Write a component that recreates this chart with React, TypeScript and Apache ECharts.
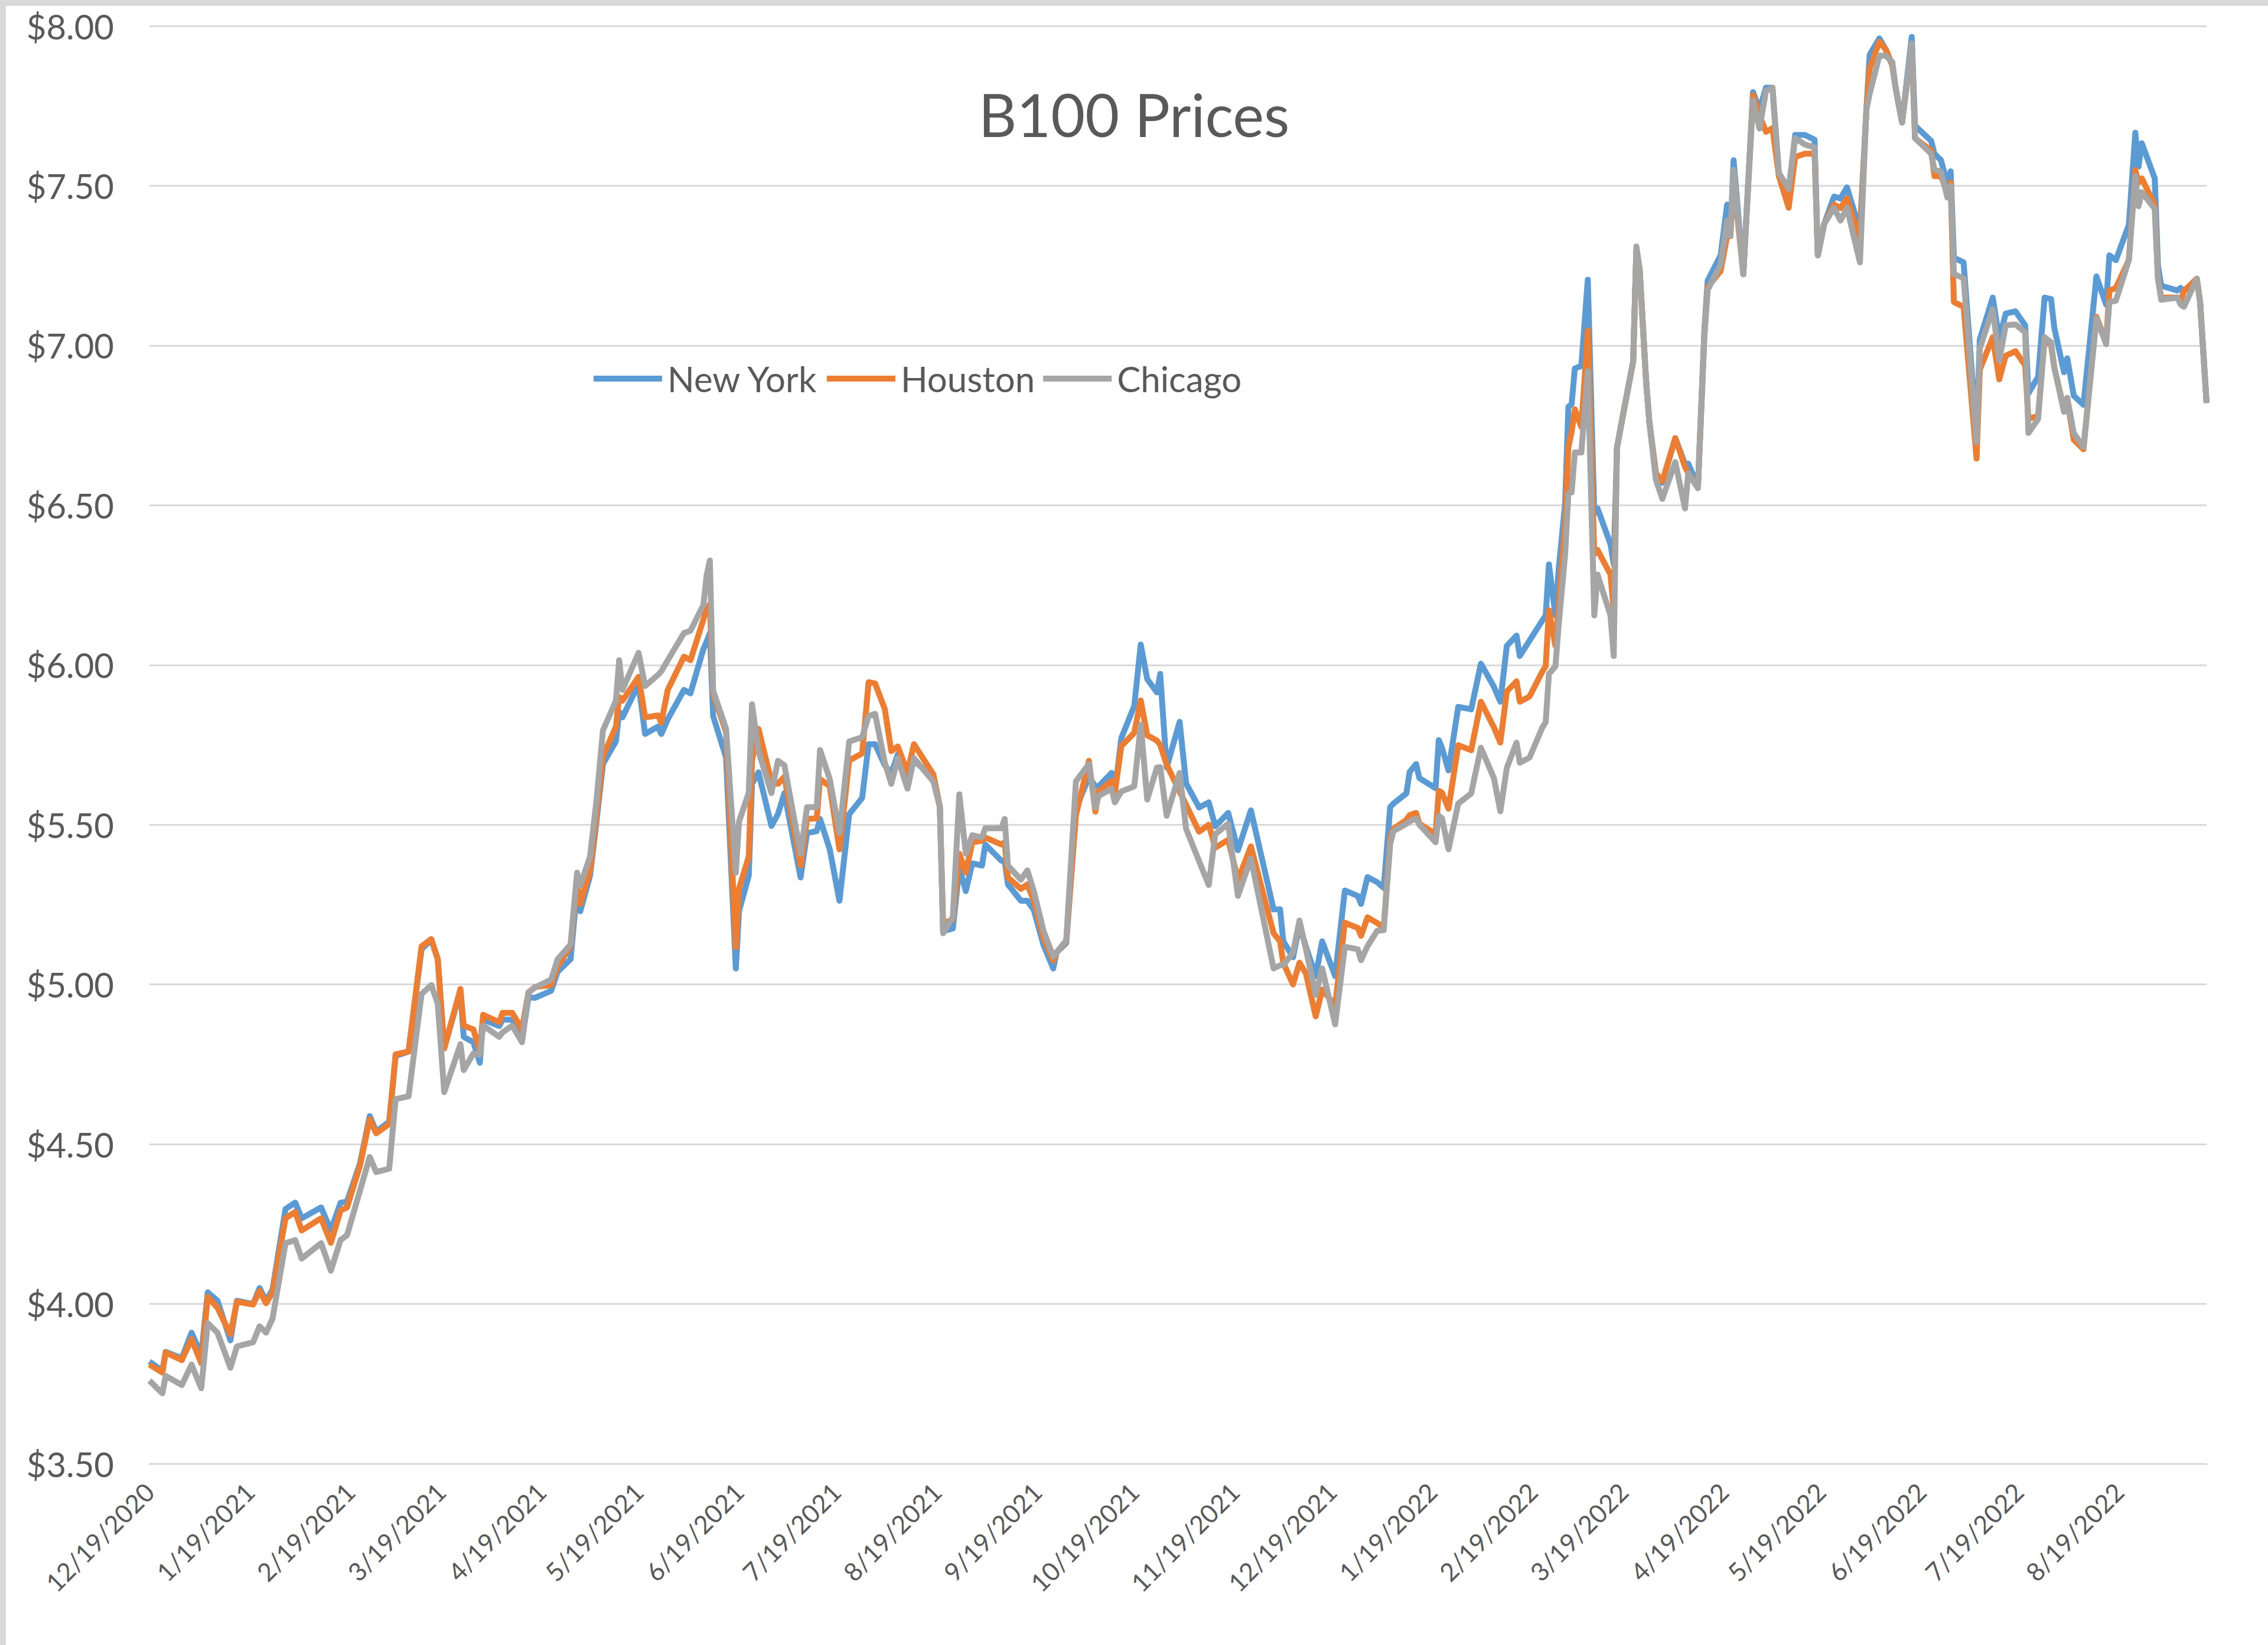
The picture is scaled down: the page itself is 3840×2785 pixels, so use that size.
import React, { useEffect, useRef } from "react";
import * as echarts from "echarts";

// Calendar days from 12/19/2020 (day 0) through the last shown day
const START_UTC = Date.UTC(2020, 11, 19);
const DAY_COUNT = 636;

// Sample days (days after 12/19/2020)
const sampleDay = [
  0, 4, 5, 10, 13, 16, 18, 21, 25, 27, 32, 34, 36, 38, 42, 45, 47, 53, 56, 59,
  61, 65, 68, 70, 74, 76, 80, 84, 87, 89, 91, 96, 97, 100, 102, 103, 108, 109, 112, 115,
  117, 119, 124, 126, 130, 132, 133, 136, 138, 140, 144, 145, 146, 151, 153, 157, 158, 160, 165, 167,
  171, 172, 173, 174, 178, 181, 182, 185, 186, 188, 192, 194, 196, 201, 203, 206, 207, 210, 213, 216,
  220, 222, 224, 227, 229, 231, 234, 236, 242, 244, 245, 248, 250, 252, 254, 257, 258, 263, 264, 265,
  269, 271, 273, 276, 279, 280, 283, 286, 290, 292, 293, 297, 298, 300, 304, 306, 308, 311, 312, 314,
  318, 320, 324, 327, 329, 333, 336, 340, 347, 349, 350, 353, 355, 357, 360, 362, 366, 369, 373, 374,
  376, 379, 381, 383, 384, 388, 389, 391, 392, 397, 398, 399, 401, 404, 408, 411, 415, 417, 419, 422,
  423, 426, 430, 431, 432, 434, 435, 437, 438, 439, 440, 442, 444, 446, 447, 451, 452, 453, 455, 458,
  459, 460, 462, 463, 465, 467, 471, 474, 475, 478, 480, 481, 485, 487, 488, 489, 492, 495, 497, 499,
  501, 503, 506, 508, 511, 514, 515, 517, 520, 522, 524, 528, 530, 531, 534, 536, 538, 539, 541, 544,
  545, 550, 551, 553, 555, 556, 557, 560, 564, 565, 569, 571, 573, 576, 579, 580, 583, 585, 587, 588,
  591, 592, 594, 597, 601, 604, 605, 607, 611, 613, 614, 615, 619, 620, 621, 626, 627, 628, 632, 633,
  635,
];

const newYork = [
  3.82, 3.79, 3.85, 3.83, 3.91, 3.84, 4.036, 4.01, 3.886, 4.01, 4.0, 4.05, 4.01, 4.045, 4.297, 4.317, 4.268, 4.302, 4.23, 4.317,
  4.32, 4.44, 4.588, 4.54, 4.57, 4.776, 4.79, 5.11, 5.14, 5.08, 4.8, 4.98, 4.836, 4.819, 4.755, 4.89, 4.87, 4.89, 4.89, 4.825,
  4.96, 4.958, 4.98, 5.04, 5.079, 5.3, 5.229, 5.34, 5.51, 5.69, 5.761, 5.853, 5.836, 5.94, 5.784, 5.807, 5.784, 5.83, 5.922, 5.911,
  6.05, 6.073, 6.1, 5.84, 5.71, 5.05, 5.23, 5.34, 5.628, 5.664, 5.496, 5.533, 5.599, 5.335, 5.474, 5.48, 5.518, 5.423, 5.262, 5.533,
  5.584, 5.752, 5.752, 5.686, 5.66, 5.72, 5.64, 5.7, 5.65, 5.555, 5.167, 5.175, 5.365, 5.292, 5.379, 5.372, 5.438, 5.387, 5.387, 5.313,
  5.262, 5.262, 5.233, 5.123, 5.05, 5.1, 5.13, 5.55, 5.65, 5.62, 5.62, 5.662, 5.6, 5.771, 5.872, 6.064, 5.956, 5.914, 5.972, 5.679,
  5.822, 5.629, 5.554, 5.57, 5.495, 5.537, 5.42, 5.545, 5.235, 5.235, 5.135, 5.085, 5.185, 5.118, 5.026, 5.135, 5.026, 5.294, 5.277, 5.252,
  5.336, 5.32, 5.302, 5.555, 5.566, 5.598, 5.665, 5.69, 5.646, 5.614, 5.765, 5.74, 5.67, 5.869, 5.861, 6.004, 5.932, 5.885, 6.06, 6.092,
  6.028, 6.076, 6.14, 6.155, 6.315, 6.155, 6.299, 6.506, 6.808, 6.816, 6.928, 6.936, 7.206, 6.474, 6.49, 6.378, 6.315, 6.68, 6.79, 6.95,
  7.3, 7.238, 6.888, 6.76, 6.6, 6.57, 6.71, 6.629, 6.63, 6.56, 7.05, 7.203, 7.282, 7.441, 7.342, 7.58, 7.223, 7.793, 7.738, 7.807,
  7.807, 7.53, 7.48, 7.659, 7.659, 7.644, 7.282, 7.381, 7.466, 7.46, 7.495, 7.36, 7.738, 7.91, 7.961, 7.926, 7.877, 7.807, 7.698, 7.966,
  7.688, 7.64, 7.6, 7.58, 7.505, 7.545, 7.275, 7.26, 6.72, 7.019, 7.15, 7.019, 7.1, 7.107, 7.063, 6.85, 6.902, 7.15, 7.145, 7.055,
  6.916, 6.96, 6.843, 6.814, 7.216, 7.128, 7.282, 7.267, 7.377, 7.666, 7.56, 7.633, 7.523, 7.25, 7.187, 7.172, 7.18, 7.17, 7.209, 7.136,
  6.82,
];

const houston = [
  3.81, 3.785, 3.848, 3.824, 3.89, 3.814, 4.022, 3.988, 3.905, 4.007, 3.998, 4.041, 4.002, 4.036, 4.268, 4.288, 4.23, 4.268, 4.191, 4.292,
  4.302, 4.433, 4.578, 4.534, 4.563, 4.781, 4.79, 5.119, 5.142, 5.079, 4.8, 4.986, 4.871, 4.859, 4.79, 4.905, 4.882, 4.911, 4.911, 4.859,
  4.975, 4.992, 4.998, 5.056, 5.119, 5.322, 5.252, 5.356, 5.53, 5.714, 5.807, 5.9, 5.888, 5.963, 5.836, 5.842, 5.819, 5.922, 6.026, 6.015,
  6.142, 6.177, 6.19, 5.91, 5.79, 5.116, 5.3, 5.4, 5.701, 5.8, 5.635, 5.628, 5.65, 5.372, 5.518, 5.52, 5.643, 5.62, 5.423, 5.701,
  5.723, 5.946, 5.942, 5.862, 5.73, 5.745, 5.664, 5.752, 5.657, 5.555, 5.19, 5.204, 5.409, 5.35, 5.445, 5.45, 5.46, 5.438, 5.445, 5.335,
  5.299, 5.313, 5.262, 5.145, 5.075, 5.1, 5.135, 5.53, 5.7, 5.541, 5.604, 5.637, 5.6, 5.746, 5.788, 5.889, 5.78, 5.763, 5.75, 5.688,
  5.604, 5.562, 5.478, 5.5, 5.428, 5.453, 5.327, 5.432, 5.16, 5.135, 5.068, 5.0, 5.068, 5.034, 4.9, 4.984, 4.934, 5.193, 5.177, 5.152,
  5.21, 5.192, 5.177, 5.46, 5.487, 5.515, 5.53, 5.537, 5.503, 5.471, 5.606, 5.6, 5.55, 5.749, 5.733, 5.885, 5.805, 5.757, 5.917, 5.949,
  5.885, 5.901, 5.98, 5.996, 6.171, 6.06, 6.187, 6.442, 6.681, 6.729, 6.8, 6.745, 7.047, 6.347, 6.36, 6.283, 6.171, 6.68, 6.79, 6.95,
  7.3, 7.238, 6.888, 6.76, 6.601, 6.575, 6.71, 6.62, 6.6, 6.559, 7.04, 7.183, 7.233, 7.342, 7.342, 7.52, 7.223, 7.783, 7.72, 7.669,
  7.68, 7.53, 7.431, 7.59, 7.6, 7.6, 7.282, 7.381, 7.441, 7.43, 7.461, 7.33, 7.738, 7.867, 7.951, 7.926, 7.877, 7.807, 7.698, 7.936,
  7.649, 7.61, 7.53, 7.53, 7.48, 7.51, 7.136, 7.121, 6.646, 6.924, 7.026, 6.894, 6.968, 6.982, 6.938, 6.77, 6.78, 7.02, 7.0, 6.931,
  6.8, 6.83, 6.705, 6.675, 7.09, 7.01, 7.172, 7.18, 7.267, 7.549, 7.51, 7.523, 7.44, 7.209, 7.15, 7.15, 7.14, 7.17, 7.209, 7.136,
  6.82,
];

const chicago = [
  3.76, 3.72, 3.775, 3.746, 3.81, 3.736, 3.94, 3.91, 3.8, 3.867, 3.88, 3.93, 3.91, 3.954, 4.19, 4.2, 4.142, 4.19, 4.104, 4.2,
  4.215, 4.355, 4.46, 4.413, 4.423, 4.641, 4.65, 4.97, 4.998, 4.94, 4.663, 4.813, 4.732, 4.784, 4.78, 4.871, 4.836, 4.85, 4.871, 4.819,
  4.975, 4.99, 5.015, 5.079, 5.125, 5.35, 5.31, 5.4, 5.576, 5.795, 5.888, 6.015, 5.922, 6.038, 5.934, 5.969, 5.98, 6.015, 6.1, 6.107,
  6.188, 6.281, 6.327, 5.92, 5.8, 5.35, 5.51, 5.6, 5.877, 5.73, 5.599, 5.7, 5.686, 5.409, 5.555, 5.555, 5.734, 5.643, 5.474, 5.76,
  5.774, 5.84, 5.847, 5.694, 5.628, 5.708, 5.613, 5.708, 5.635, 5.555, 5.16, 5.211, 5.595, 5.409, 5.467, 5.46, 5.489, 5.489, 5.518, 5.372,
  5.328, 5.357, 5.292, 5.167, 5.087, 5.1, 5.138, 5.636, 5.69, 5.554, 5.59, 5.612, 5.57, 5.604, 5.62, 5.813, 5.579, 5.679, 5.68, 5.528,
  5.662, 5.487, 5.386, 5.311, 5.47, 5.503, 5.277, 5.394, 5.05, 5.06, 5.06, 5.1, 5.2, 5.11, 4.967, 5.05, 4.875, 5.118, 5.11, 5.076,
  5.12, 5.168, 5.17, 5.44, 5.48, 5.503, 5.51, 5.52, 5.5, 5.445, 5.528, 5.52, 5.423, 5.566, 5.598, 5.741, 5.646, 5.542, 5.678, 5.757,
  5.694, 5.71, 5.805, 5.821, 5.972, 5.996, 6.124, 6.347, 6.537, 6.54, 6.665, 6.665, 6.92, 6.155, 6.283, 6.155, 6.028, 6.68, 6.79, 6.95,
  7.31, 7.238, 6.888, 6.76, 6.58, 6.52, 6.635, 6.49, 6.6, 6.553, 7.03, 7.174, 7.253, 7.391, 7.342, 7.55, 7.223, 7.768, 7.679, 7.797,
  7.807, 7.54, 7.49, 7.649, 7.629, 7.62, 7.282, 7.381, 7.431, 7.391, 7.431, 7.26, 7.738, 7.788, 7.907, 7.907, 7.887, 7.807, 7.698, 7.946,
  7.649, 7.6, 7.55, 7.545, 7.463, 7.5, 7.224, 7.21, 6.697, 6.99, 7.114, 6.953, 7.063, 7.066, 7.041, 6.726, 6.77, 7.026, 7.01, 6.931,
  6.792, 6.836, 6.726, 6.682, 7.085, 7.004, 7.136, 7.14, 7.267, 7.53, 7.436, 7.48, 7.428, 7.209, 7.143, 7.15, 7.128, 7.121, 7.209, 7.136,
  6.82,
];

const seriesNames = ["New York", "Houston", "Chicago"];
const seriesColors = ["#5B9BD5", "#ED7D31", "#A5A5A5"];
const seriesValues = [newYork, houston, chicago];

const FONT = "Lato, 'Open Sans', sans-serif";
const TEXT = "#595959";

function dayLabel(i: number): string {
  const d = new Date(START_UTC + i * 86400000);
  return `${d.getUTCMonth() + 1}/${d.getUTCDate()}/${d.getUTCFullYear()}`;
}

export default function App() {
  const ref = useRef<HTMLDivElement>(null);

  useEffect(() => {
    if (!ref.current) return;
    const chart = echarts.init(ref.current, null, { renderer: "svg" });
    const categories = Array.from({ length: DAY_COUNT }, (_, i) => dayLabel(i));

    const option: any = {
      animation: false,
      backgroundColor: "#FFFFFF",
      title: {
        text: "B100 Prices",
        left: "center",
        top: 138,
        textStyle: { fontFamily: FONT, fontSize: 100, fontWeight: "normal", color: TEXT },
      },
      legend: {
        data: seriesNames.map((name) => ({ name, icon: "rect" })),
        left: 1000,
        top: 606,
        itemWidth: 116,
        itemHeight: 10,
        itemGap: 14,
        textStyle: { fontFamily: FONT, fontSize: 60, color: TEXT, padding: [0, 0, 0, 4] },
      },
      grid: { left: 253, right: 104, top: 44, bottom: 307, containLabel: false },
      xAxis: {
        type: "category",
        data: categories,
        boundaryGap: false,
        axisLine: { show: true, lineStyle: { color: "#D9D9D9", width: 3 } },
        axisTick: { show: false },
        splitLine: { show: false },
        axisLabel: {
          interval: (_idx: number, value: string) => value.split("/")[1] === "19",
          rotate: 45,
          margin: 40,
          fontFamily: FONT,
          fontSize: 43,
          color: TEXT,
        },
      },
      yAxis: {
        type: "value",
        min: 3.5,
        max: 8,
        interval: 0.5,
        axisLine: { show: false },
        axisTick: { show: false },
        splitLine: { lineStyle: { color: "#D9D9D9", width: 3 } },
        axisLabel: {
          formatter: (v: number) => "$" + v.toFixed(2),
          margin: 60,
          fontFamily: FONT,
          fontSize: 58,
          color: TEXT,
        },
      },
      graphic: [
        {
          type: "rect",
          left: 0,
          top: 0,
          shape: { x: 0, y: 0, width: 3840, height: 2785 },
          style: { fill: "none", stroke: "#D9D9D9", lineWidth: 10 },
          silent: true,
        },
      ],
      series: seriesNames.map((name, s) => ({
        name,
        type: "line",
        symbol: "none",
        connectNulls: true,
        color: seriesColors[s],
        itemStyle: { color: seriesColors[s] },
        lineStyle: { width: 10, color: seriesColors[s], join: "round" },
        data: sampleDay.map((d, i) => [d, seriesValues[s][i]]),
      })),
    };

    chart.setOption(option);
    return () => chart.dispose();
  }, []);

  return (
    <div
      ref={ref}
      style={{ position: "absolute", left: 0, top: 0, width: 3840, height: 2785 }}
    />
  );
}
